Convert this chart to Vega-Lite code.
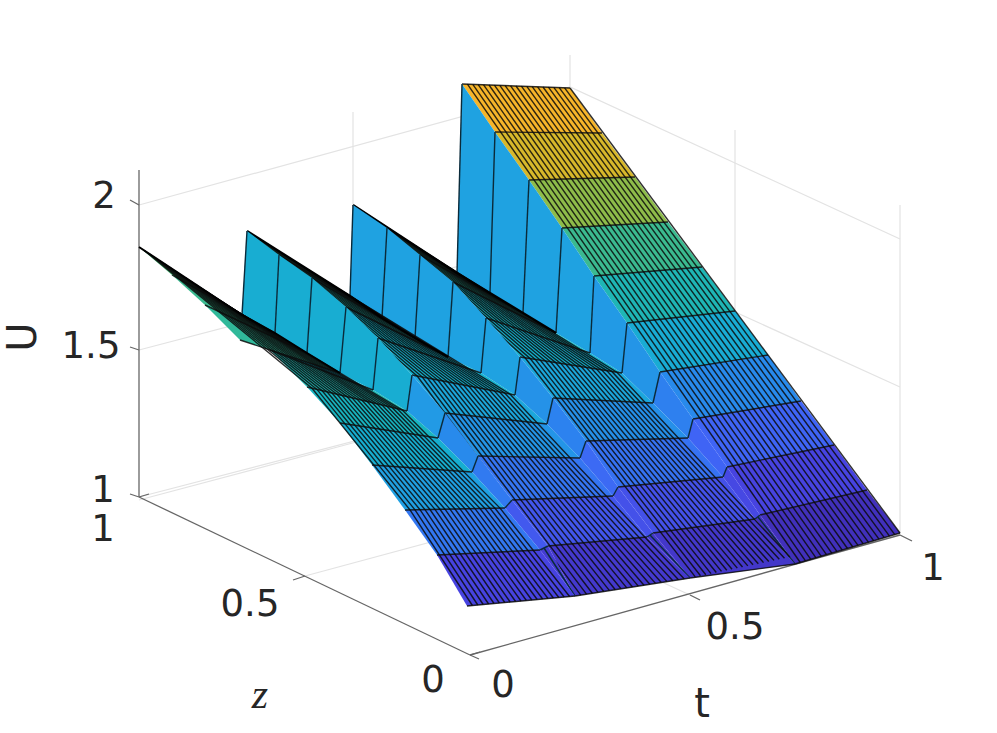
{"$schema":"https://vega.github.io/schema/vega-lite/v6.json","autosize":{"type":"fit","contains":"padding"},"width":997,"height":733,"padding":0,"background":"#ffffff","view":{"stroke":null},
"datasets":{
"cells":[
{"p":"D","id":"D0","U":2.08,"x":[462,570,602,495,462],"y":[84,88,133,132,84],"n":[0,1,2,3,4]},
{"p":"D","id":"D1","U":2.02,"x":[495,602,635,529,495],"y":[132,133,177,180,132],"n":[0,1,2,3,4]},
{"p":"D","id":"D2","U":1.89,"x":[529,635,668,562,529],"y":[180,177,222,228,180],"n":[0,1,2,3,4]},
{"p":"D","id":"D3","U":1.74,"x":[562,668,702,594,562],"y":[228,222,267,276,228],"n":[0,1,2,3,4]},
{"p":"D","id":"D4","U":1.65,"x":[594,702,735,627,594],"y":[276,267,311,323,276],"n":[0,1,2,3,4]},
{"p":"D","id":"D5","U":1.54,"x":[627,735,768,660,627],"y":[323,311,355,372,323],"n":[0,1,2,3,4]},
{"p":"D","id":"D6","U":1.38,"x":[660,768,801,693,660],"y":[372,355,401,419,372],"n":[0,1,2,3,4]},
{"p":"D","id":"D7","U":1.24,"x":[693,801,834,727,693],"y":[419,401,445,467,419],"n":[0,1,2,3,4]},
{"p":"D","id":"D8","U":1.12,"x":[727,834,867,760,727],"y":[467,445,490,515,467],"n":[0,1,2,3,4]},
{"p":"D","id":"D9","U":1.04,"x":[760,867,900,795,760],"y":[515,490,533,564,515],"n":[0,1,2,3,4]},
{"p":"WD","id":"WD0","U":1.47,"x":[462,495,490,457,462],"y":[84,132,293,273,84],"n":[0,1,2,3,4]},
{"p":"WD","id":"WD1","U":1.47,"x":[495,529,523,490,495],"y":[132,180,313,293,132],"n":[0,1,2,3,4]},
{"p":"WD","id":"WD2","U":1.47,"x":[529,562,556,523,529],"y":[180,228,333,313,180],"n":[0,1,2,3,4]},
{"p":"WD","id":"WD3","U":1.47,"x":[562,594,590,556,562],"y":[228,276,353,333,228],"n":[0,1,2,3,4]},
{"p":"WD","id":"WD4","U":1.44,"x":[594,627,622,590,594],"y":[276,323,373,353,276],"n":[0,1,2,3,4]},
{"p":"WD","id":"WD5","U":1.42,"x":[627,660,653,622,627],"y":[323,372,403,373,323],"n":[0,1,2,3,4]},
{"p":"WD","id":"WD6","U":1.34,"x":[660,693,688,653,660],"y":[372,419,438,403,372],"n":[0,1,2,3,4]},
{"p":"WD","id":"WD7","U":1.24,"x":[693,727,723,688,693],"y":[419,467,477,438,419],"n":[0,1,2,3,4]},
{"p":"WD","id":"WD8","U":1.14,"x":[727,760,755,723,727],"y":[467,515,519,477,467],"n":[0,1,2,3,4]},
{"p":"WD","id":"WD9","U":1.05,"x":[760,795,795,755,760],"y":[515,564,564,519,515],"n":[0,1,2,3,4]},
{"p":"C","id":"C0","U":1.79,"x":[353,457,490,387,353],"y":[205,273,293,228,205],"n":[0,1,2,3,4]},
{"p":"C","id":"C1","U":1.74,"x":[387,490,523,420,387],"y":[228,293,313,255,228],"n":[0,1,2,3,4]},
{"p":"C","id":"C2","U":1.70,"x":[420,523,556,453,420],"y":[255,313,333,282,255],"n":[0,1,2,3,4]},
{"p":"C","id":"C3","U":1.62,"x":[453,556,590,486,453],"y":[282,333,353,318,282],"n":[0,1,2,3,4]},
{"p":"C","id":"C4","U":1.58,"x":[486,590,622,520,486],"y":[318,353,373,357,318],"n":[0,1,2,3,4]},
{"p":"C","id":"C5","U":1.50,"x":[520,622,653,553,520],"y":[357,373,403,398,357],"n":[0,1,2,3,4]},
{"p":"C","id":"C6","U":1.40,"x":[553,653,688,586,553],"y":[398,403,438,441,398],"n":[0,1,2,3,4]},
{"p":"C","id":"C7","U":1.29,"x":[586,688,723,618,586],"y":[441,438,477,487,441],"n":[0,1,2,3,4]},
{"p":"C","id":"C8","U":1.17,"x":[618,723,755,653,618],"y":[487,477,519,533,487],"n":[0,1,2,3,4]},
{"p":"C","id":"C9","U":1.07,"x":[653,755,795,690,653],"y":[533,519,564,578,533],"n":[0,1,2,3,4]},
{"p":"WC","id":"WC0","U":1.47,"x":[353,387,382,350,353],"y":[205,228,318,296,205],"n":[0,1,2,3,4]},
{"p":"WC","id":"WC1","U":1.47,"x":[387,420,415,382,387],"y":[228,255,338,318,228],"n":[0,1,2,3,4]},
{"p":"WC","id":"WC2","U":1.47,"x":[420,453,448,415,420],"y":[255,282,357,338,255],"n":[0,1,2,3,4]},
{"p":"WC","id":"WC3","U":1.47,"x":[453,486,481,448,453],"y":[282,318,373,357,282],"n":[0,1,2,3,4]},
{"p":"WC","id":"WC4","U":1.47,"x":[486,520,515,481,486],"y":[318,357,395,373,318],"n":[0,1,2,3,4]},
{"p":"WC","id":"WC5","U":1.41,"x":[520,553,547,515,520],"y":[357,398,424,395,357],"n":[0,1,2,3,4]},
{"p":"WC","id":"WC6","U":1.35,"x":[553,586,580,547,553],"y":[398,441,458,424,398],"n":[0,1,2,3,4]},
{"p":"WC","id":"WC7","U":1.26,"x":[586,618,613,580,586],"y":[441,487,496,458,441],"n":[0,1,2,3,4]},
{"p":"WC","id":"WC8","U":1.17,"x":[618,653,647,613,618],"y":[487,533,537,496,487],"n":[0,1,2,3,4]},
{"p":"WC","id":"WC9","U":1.07,"x":[653,690,690,647,653],"y":[533,578,578,537,533],"n":[0,1,2,3,4]},
{"p":"B","id":"B0","U":1.74,"x":[247,350,382,279,247],"y":[231,296,318,255,231],"n":[0,1,2,3,4]},
{"p":"B","id":"B1","U":1.72,"x":[279,382,415,312,279],"y":[255,318,338,278,255],"n":[0,1,2,3,4]},
{"p":"B","id":"B2","U":1.67,"x":[312,415,448,346,312],"y":[278,338,357,307,278],"n":[0,1,2,3,4]},
{"p":"B","id":"B3","U":1.60,"x":[346,448,481,378,346],"y":[307,357,373,338,307],"n":[0,1,2,3,4]},
{"p":"B","id":"B4","U":1.58,"x":[378,481,515,412,378],"y":[338,373,395,375,338],"n":[0,1,2,3,4]},
{"p":"B","id":"B5","U":1.50,"x":[412,515,547,445,412],"y":[375,395,424,413,375],"n":[0,1,2,3,4]},
{"p":"B","id":"B6","U":1.42,"x":[445,547,580,478,445],"y":[413,424,458,456,413],"n":[0,1,2,3,4]},
{"p":"B","id":"B7","U":1.30,"x":[478,580,613,512,478],"y":[456,458,496,500,456],"n":[0,1,2,3,4]},
{"p":"B","id":"B8","U":1.19,"x":[512,613,647,548,512],"y":[500,496,537,546,500],"n":[0,1,2,3,4]},
{"p":"B","id":"B9","U":1.08,"x":[548,647,690,575,548],"y":[546,537,578,596,546],"n":[0,1,2,3,4]},
{"p":"WB","id":"WB0","U":1.55,"x":[247,279,275,242,247],"y":[231,255,333,315,231],"n":[0,1,2,3,4]},
{"p":"WB","id":"WB1","U":1.55,"x":[279,312,307,275,279],"y":[255,278,353,333,255],"n":[0,1,2,3,4]},
{"p":"WB","id":"WB2","U":1.55,"x":[312,346,340,307,312],"y":[278,307,373,353,278],"n":[0,1,2,3,4]},
{"p":"WB","id":"WB3","U":1.55,"x":[346,378,373,340,346],"y":[307,338,390,373,307],"n":[0,1,2,3,4]},
{"p":"WB","id":"WB4","U":1.55,"x":[378,412,407,373,378],"y":[338,375,411,390,338],"n":[0,1,2,3,4]},
{"p":"WB","id":"WB5","U":1.44,"x":[412,445,438,407,412],"y":[375,413,438,411,375],"n":[0,1,2,3,4]},
{"p":"WB","id":"WB6","U":1.38,"x":[445,478,472,438,445],"y":[413,456,472,438,413],"n":[0,1,2,3,4]},
{"p":"WB","id":"WB7","U":1.32,"x":[478,512,505,472,478],"y":[456,500,508,472,456],"n":[0,1,2,3,4]},
{"p":"WB","id":"WB8","U":1.20,"x":[512,548,540,505,512],"y":[500,546,550,508,500],"n":[0,1,2,3,4]},
{"p":"WB","id":"WB9","U":1.09,"x":[548,575,575,540,548],"y":[546,596,596,550,546],"n":[0,1,2,3,4]},
{"p":"A","id":"A0","U":1.78,"x":[139,242,275,172,139],"y":[247,315,333,275,247],"n":[0,1,2,3,4]},
{"p":"A","id":"A1","U":1.74,"x":[172,275,307,205,172],"y":[275,333,353,305,275],"n":[0,1,2,3,4]},
{"p":"A","id":"A2","U":1.72,"x":[205,307,340,240,205],"y":[305,353,373,340,305],"n":[0,1,2,3,4]},
{"p":"A","id":"A3","U":1.58,"x":[240,340,373,270,240],"y":[340,373,390,350,340],"n":[0,1,2,3,4]},
{"p":"A","id":"A4","U":1.66,"x":[270,373,407,307,270],"y":[350,390,411,387,350],"n":[0,1,2,3,4]},
{"p":"A","id":"A5","U":1.62,"x":[307,407,438,340,307],"y":[387,411,438,423,387],"n":[0,1,2,3,4]},
{"p":"A","id":"A6","U":1.56,"x":[340,438,472,372,340],"y":[423,438,472,465,423],"n":[0,1,2,3,4]},
{"p":"A","id":"A7","U":1.46,"x":[372,472,505,405,372],"y":[465,472,508,510,465],"n":[0,1,2,3,4]},
{"p":"A","id":"A8","U":1.31,"x":[405,505,540,437,405],"y":[510,508,550,555,510],"n":[0,1,2,3,4]},
{"p":"A","id":"A9","U":1.12,"x":[437,540,575,467,437],"y":[555,550,596,606,555],"n":[0,1,2,3,4]}
],
"hatch":[
{"p":"D","k":"D1","x":[467.4,800.3],"y":[84.2,562.5],"n":[0,1]},
{"p":"D","k":"D2","x":[472.8,805.5],"y":[84.4,560.9],"n":[0,1]},
{"p":"D","k":"D3","x":[478.2,810.8],"y":[84.6,559.4],"n":[0,1]},
{"p":"D","k":"D4","x":[483.6,816],"y":[84.8,557.8],"n":[0,1]},
{"p":"D","k":"D5","x":[489,821.3],"y":[85,556.3],"n":[0,1]},
{"p":"D","k":"D6","x":[494.4,826.5],"y":[85.2,554.7],"n":[0,1]},
{"p":"D","k":"D7","x":[499.8,831.8],"y":[85.4,553.2],"n":[0,1]},
{"p":"D","k":"D8","x":[505.2,837],"y":[85.6,551.6],"n":[0,1]},
{"p":"D","k":"D9","x":[510.6,842.3],"y":[85.8,550.1],"n":[0,1]},
{"p":"D","k":"D10","x":[516,847.5],"y":[86,548.5],"n":[0,1]},
{"p":"D","k":"D11","x":[521.4,852.8],"y":[86.2,547],"n":[0,1]},
{"p":"D","k":"D12","x":[526.8,858],"y":[86.4,545.4],"n":[0,1]},
{"p":"D","k":"D13","x":[532.2,863.3],"y":[86.6,543.9],"n":[0,1]},
{"p":"D","k":"D14","x":[537.6,868.5],"y":[86.8,542.3],"n":[0,1]},
{"p":"D","k":"D15","x":[543,873.8],"y":[87,540.8],"n":[0,1]},
{"p":"D","k":"D16","x":[548.4,879],"y":[87.2,539.2],"n":[0,1]},
{"p":"D","k":"D17","x":[553.8,884.3],"y":[87.4,537.7],"n":[0,1]},
{"p":"D","k":"D18","x":[559.2,889.5],"y":[87.6,536.1],"n":[0,1]},
{"p":"D","k":"D19","x":[564.6,894.8],"y":[87.8,534.6],"n":[0,1]},
{"p":"D","k":"D20","x":[570,900],"y":[88,533],"n":[0,1]},
{"p":"D","k":"Dj0","x":[462,570],"y":[84,88],"n":[0,1]},
{"p":"D","k":"Dj1","x":[495,602],"y":[132,133],"n":[0,1]},
{"p":"D","k":"Dj2","x":[529,635],"y":[180,177],"n":[0,1]},
{"p":"D","k":"Dj3","x":[562,668],"y":[228,222],"n":[0,1]},
{"p":"D","k":"Dj4","x":[594,702],"y":[276,267],"n":[0,1]},
{"p":"D","k":"Dj5","x":[627,735],"y":[323,311],"n":[0,1]},
{"p":"D","k":"Dj6","x":[660,768],"y":[372,355],"n":[0,1]},
{"p":"D","k":"Dj7","x":[693,801],"y":[419,401],"n":[0,1]},
{"p":"D","k":"Dj8","x":[727,834],"y":[467,445],"n":[0,1]},
{"p":"D","k":"Dj9","x":[760,867],"y":[515,490],"n":[0,1]},
{"p":"D","k":"Dj10","x":[795,900],"y":[564,533],"n":[0,1]},
{"p":"WD","k":"WDj0","x":[462,457],"y":[84,273],"n":[0,1]},
{"p":"WD","k":"WDj1","x":[495,490],"y":[132,293],"n":[0,1]},
{"p":"WD","k":"WDj2","x":[529,523],"y":[180,313],"n":[0,1]},
{"p":"WD","k":"WDj3","x":[562,556],"y":[228,333],"n":[0,1]},
{"p":"WD","k":"WDj4","x":[594,590],"y":[276,353],"n":[0,1]},
{"p":"WD","k":"WDj5","x":[627,622],"y":[323,373],"n":[0,1]},
{"p":"WD","k":"WDj6","x":[660,653],"y":[372,403],"n":[0,1]},
{"p":"WD","k":"WDj7","x":[693,688],"y":[419,438],"n":[0,1]},
{"p":"WD","k":"WDj8","x":[727,723],"y":[467,477],"n":[0,1]},
{"p":"WD","k":"WDj9","x":[760,755],"y":[515,519],"n":[0,1]},
{"p":"WD","k":"WDw","x":[758,795],"y":[517,564],"n":[0,1]},
{"p":"C","k":"C1","x":[358.2,525.1,695.3],"y":[208.4,357.8,576.9],"n":[0,1,2]},
{"p":"C","k":"C2","x":[363.4,530.2,700.5],"y":[211.8,358.6,575.8],"n":[0,1,2]},
{"p":"C","k":"C3","x":[368.6,535.3,705.8],"y":[215.2,359.4,574.7],"n":[0,1,2]},
{"p":"C","k":"C4","x":[373.8,540.4,711],"y":[218.6,360.2,573.6],"n":[0,1,2]},
{"p":"C","k":"C5","x":[379,545.5,716.3],"y":[222,361,572.5],"n":[0,1,2]},
{"p":"C","k":"C6","x":[384.2,550.6,721.5],"y":[225.4,361.8,571.4],"n":[0,1,2]},
{"p":"C","k":"C7","x":[389.4,555.7,726.8],"y":[228.8,362.6,570.3],"n":[0,1,2]},
{"p":"C","k":"C8","x":[394.6,560.8,732],"y":[232.2,363.4,569.2],"n":[0,1,2]},
{"p":"C","k":"C9","x":[399.8,565.9,737.3],"y":[235.6,364.2,568.1],"n":[0,1,2]},
{"p":"C","k":"C10","x":[405,571,742.5],"y":[239,365,567],"n":[0,1,2]},
{"p":"C","k":"C11","x":[410.2,576.1,747.8],"y":[242.4,365.8,565.9],"n":[0,1,2]},
{"p":"C","k":"C12","x":[415.4,581.2,753],"y":[245.8,366.6,564.8],"n":[0,1,2]},
{"p":"C","k":"C13","x":[420.6,586.3,758.3],"y":[249.2,367.4,563.7],"n":[0,1,2]},
{"p":"C","k":"C14","x":[425.8,591.4,763.5],"y":[252.6,368.2,562.6],"n":[0,1,2]},
{"p":"C","k":"C15","x":[431,596.5,768.8],"y":[256,369,561.5],"n":[0,1,2]},
{"p":"C","k":"C16","x":[436.2,601.6,774],"y":[259.4,369.8,560.4],"n":[0,1,2]},
{"p":"C","k":"C17","x":[441.4,606.7,779.3],"y":[262.8,370.6,559.3],"n":[0,1,2]},
{"p":"C","k":"C18","x":[446.6,611.8,784.5],"y":[266.2,371.4,558.2],"n":[0,1,2]},
{"p":"C","k":"C19","x":[451.8,616.9,789.8],"y":[269.6,372.2,557.1],"n":[0,1,2]},
{"p":"C","k":"Cj1","x":[387,490],"y":[228,293],"n":[0,1]},
{"p":"C","k":"Cj2","x":[420,523],"y":[255,313],"n":[0,1]},
{"p":"C","k":"Cj3","x":[453,556],"y":[282,333],"n":[0,1]},
{"p":"C","k":"Cj4","x":[486,590],"y":[318,353],"n":[0,1]},
{"p":"C","k":"Cj5","x":[520,622],"y":[357,373],"n":[0,1]},
{"p":"C","k":"Cj6","x":[553,653],"y":[398,403],"n":[0,1]},
{"p":"C","k":"Cj7","x":[586,688],"y":[441,438],"n":[0,1]},
{"p":"C","k":"Cj8","x":[618,723],"y":[487,477],"n":[0,1]},
{"p":"C","k":"Cj9","x":[653,755],"y":[533,519],"n":[0,1]},
{"p":"C","k":"Cj10","x":[690,795],"y":[578,564],"n":[0,1]},
{"p":"WC","k":"WCj0","x":[353,350],"y":[205,296],"n":[0,1]},
{"p":"WC","k":"WCj1","x":[387,382],"y":[228,318],"n":[0,1]},
{"p":"WC","k":"WCj2","x":[420,415],"y":[255,338],"n":[0,1]},
{"p":"WC","k":"WCj3","x":[453,448],"y":[282,357],"n":[0,1]},
{"p":"WC","k":"WCj4","x":[486,481],"y":[318,373],"n":[0,1]},
{"p":"WC","k":"WCj5","x":[520,515],"y":[357,395],"n":[0,1]},
{"p":"WC","k":"WCj6","x":[553,547],"y":[398,424],"n":[0,1]},
{"p":"WC","k":"WCj7","x":[586,580],"y":[441,458],"n":[0,1]},
{"p":"WC","k":"WCj8","x":[618,613],"y":[487,496],"n":[0,1]},
{"p":"WC","k":"WCj9","x":[653,647],"y":[533,537],"n":[0,1]},
{"p":"WC","k":"WCw","x":[650,690],"y":[535,578],"n":[0,1]},
{"p":"B","k":"B1","x":[252.2,417.2,580.8],"y":[234.3,376,595.1],"n":[0,1,2]},
{"p":"B","k":"B2","x":[257.3,422.3,586.5],"y":[237.5,377,594.2],"n":[0,1,2]},
{"p":"B","k":"B3","x":[262.5,427.5,592.3],"y":[240.8,378,593.3],"n":[0,1,2]},
{"p":"B","k":"B4","x":[267.6,432.6,598],"y":[244,379,592.4],"n":[0,1,2]},
{"p":"B","k":"B5","x":[272.8,437.8,603.8],"y":[247.3,380,591.5],"n":[0,1,2]},
{"p":"B","k":"B6","x":[277.9,442.9,609.5],"y":[250.5,381,590.6],"n":[0,1,2]},
{"p":"B","k":"B7","x":[283.1,448.1,615.3],"y":[253.8,382,589.7],"n":[0,1,2]},
{"p":"B","k":"B8","x":[288.2,453.2,621],"y":[257,383,588.8],"n":[0,1,2]},
{"p":"B","k":"B9","x":[293.4,458.4,626.8],"y":[260.3,384,587.9],"n":[0,1,2]},
{"p":"B","k":"B10","x":[298.5,463.5,632.5],"y":[263.5,385,587],"n":[0,1,2]},
{"p":"B","k":"B11","x":[303.7,468.7,638.3],"y":[266.8,386,586.1],"n":[0,1,2]},
{"p":"B","k":"B12","x":[308.8,473.8,644],"y":[270,387,585.2],"n":[0,1,2]},
{"p":"B","k":"B13","x":[314,479,649.8],"y":[273.3,388,584.3],"n":[0,1,2]},
{"p":"B","k":"B14","x":[319.1,484.1,655.5],"y":[276.5,389,583.4],"n":[0,1,2]},
{"p":"B","k":"B15","x":[324.3,489.3,661.3],"y":[279.8,390,582.5],"n":[0,1,2]},
{"p":"B","k":"B16","x":[329.4,494.4,667],"y":[283,391,581.6],"n":[0,1,2]},
{"p":"B","k":"B17","x":[334.6,499.6,672.8],"y":[286.3,392,580.7],"n":[0,1,2]},
{"p":"B","k":"B18","x":[339.7,504.7,678.5],"y":[289.5,393,579.8],"n":[0,1,2]},
{"p":"B","k":"B19","x":[344.9,509.9,684.3],"y":[292.8,394,578.9],"n":[0,1,2]},
{"p":"B","k":"Bj1","x":[279,382],"y":[255,318],"n":[0,1]},
{"p":"B","k":"Bj2","x":[312,415],"y":[278,338],"n":[0,1]},
{"p":"B","k":"Bj3","x":[346,448],"y":[307,357],"n":[0,1]},
{"p":"B","k":"Bj4","x":[378,481],"y":[338,373],"n":[0,1]},
{"p":"B","k":"Bj5","x":[412,515],"y":[375,395],"n":[0,1]},
{"p":"B","k":"Bj6","x":[445,547],"y":[413,424],"n":[0,1]},
{"p":"B","k":"Bj7","x":[478,580],"y":[456,458],"n":[0,1]},
{"p":"B","k":"Bj8","x":[512,613],"y":[500,496],"n":[0,1]},
{"p":"B","k":"Bj9","x":[548,647],"y":[546,537],"n":[0,1]},
{"p":"B","k":"Bj10","x":[575,690],"y":[596,578],"n":[0,1]},
{"p":"WB","k":"WBj0","x":[247,242],"y":[231,315],"n":[0,1]},
{"p":"WB","k":"WBj1","x":[279,275],"y":[255,333],"n":[0,1]},
{"p":"WB","k":"WBj2","x":[312,307],"y":[278,353],"n":[0,1]},
{"p":"WB","k":"WBj3","x":[346,340],"y":[307,373],"n":[0,1]},
{"p":"WB","k":"WBj4","x":[378,373],"y":[338,390],"n":[0,1]},
{"p":"WB","k":"WBj5","x":[412,407],"y":[375,411],"n":[0,1]},
{"p":"WB","k":"WBj6","x":[445,438],"y":[413,438],"n":[0,1]},
{"p":"WB","k":"WBj7","x":[478,472],"y":[456,472],"n":[0,1]},
{"p":"WB","k":"WBj8","x":[512,505],"y":[500,508],"n":[0,1]},
{"p":"WB","k":"WBj9","x":[548,540],"y":[546,550],"n":[0,1]},
{"p":"WB","k":"WBw","x":[544,575],"y":[548,596],"n":[0,1]},
{"p":"A","k":"A1","x":[144.2,312,410,472.4],"y":[250.4,388.2,509.9,605.5],"n":[0,1,2,3]},
{"p":"A","k":"A2","x":[149.3,317,415,477.8],"y":[253.8,389.4,509.8,605],"n":[0,1,2,3]},
{"p":"A","k":"A3","x":[154.5,322,420,483.2],"y":[257.2,390.6,509.7,604.5],"n":[0,1,2,3]},
{"p":"A","k":"A4","x":[159.6,327,425,488.6],"y":[260.6,391.8,509.6,604],"n":[0,1,2,3]},
{"p":"A","k":"A5","x":[164.8,332,430,494],"y":[264,393,509.5,603.5],"n":[0,1,2,3]},
{"p":"A","k":"A6","x":[169.9,337,435,499.4],"y":[267.4,394.2,509.4,603],"n":[0,1,2,3]},
{"p":"A","k":"A7","x":[175.1,342,440,504.8],"y":[270.8,395.4,509.3,602.5],"n":[0,1,2,3]},
{"p":"A","k":"A8","x":[180.2,347,445,510.2],"y":[274.2,396.6,509.2,602],"n":[0,1,2,3]},
{"p":"A","k":"A9","x":[185.4,352,450,515.6],"y":[277.6,397.8,509.1,601.5],"n":[0,1,2,3]},
{"p":"A","k":"A10","x":[190.5,357,455,521],"y":[281,399,509,601],"n":[0,1,2,3]},
{"p":"A","k":"A11","x":[195.7,362,460,526.4],"y":[284.4,400.2,508.9,600.5],"n":[0,1,2,3]},
{"p":"A","k":"A12","x":[200.8,367,465,531.8],"y":[287.8,401.4,508.8,600],"n":[0,1,2,3]},
{"p":"A","k":"A13","x":[206,372,470,537.2],"y":[291.2,402.6,508.7,599.5],"n":[0,1,2,3]},
{"p":"A","k":"A14","x":[211.1,377,475,542.6],"y":[294.6,403.8,508.6,599],"n":[0,1,2,3]},
{"p":"A","k":"A15","x":[216.3,382,480,548],"y":[298,405,508.5,598.5],"n":[0,1,2,3]},
{"p":"A","k":"A16","x":[221.4,387,485,553.4],"y":[301.4,406.2,508.4,598],"n":[0,1,2,3]},
{"p":"A","k":"A17","x":[226.6,392,490,558.8],"y":[304.8,407.4,508.3,597.5],"n":[0,1,2,3]},
{"p":"A","k":"A18","x":[231.7,397,495,564.2],"y":[308.2,408.6,508.2,597],"n":[0,1,2,3]},
{"p":"A","k":"A19","x":[236.9,402,500,569.6],"y":[311.6,409.8,508.1,596.5],"n":[0,1,2,3]},
{"p":"A","k":"Aj1","x":[172,275],"y":[275,333],"n":[0,1]},
{"p":"A","k":"Aj2","x":[205,307],"y":[305,353],"n":[0,1]},
{"p":"A","k":"Aj3","x":[240,340],"y":[340,373],"n":[0,1]},
{"p":"A","k":"Aj4","x":[270,373],"y":[350,390],"n":[0,1]},
{"p":"A","k":"Aj5","x":[307,407],"y":[387,411],"n":[0,1]},
{"p":"A","k":"Aj6","x":[340,438],"y":[423,438],"n":[0,1]},
{"p":"A","k":"Aj7","x":[372,472],"y":[465,472],"n":[0,1]},
{"p":"A","k":"Aj8","x":[405,505],"y":[510,508],"n":[0,1]},
{"p":"A","k":"Aj9","x":[437,540],"y":[555,550],"n":[0,1]},
{"p":"A","k":"Aj10","x":[467,575],"y":[606,596],"n":[0,1]}
],
"ridge":[
{"p":"C","k":"rC","x":[353,457,490,523,556],"y":[205,273,293,313,333],"n":[0,1,2,3,4]},
{"p":"B","k":"rB","x":[247,350,382,415,448],"y":[231,296,318,338,357],"n":[0,1,2,3,4]},
{"p":"A","k":"rA","x":[139,242,275,307,340],"y":[247,315,333,353,373],"n":[0,1,2,3,4]}
],
"grid":[
{"k":"g1","x":[139,570,900],"y":[205,87,239],"n":[0,1,2]},
{"k":"g2","x":[139,570,900],"y":[350,237,387],"n":[0,1,2]},
{"k":"g3","x":[139,570,900],"y":[497,385,535],"n":[0,1,2]},
{"k":"g4","x":[139,360],"y":[500,441],"n":[0,1]},
{"k":"g5","x":[570,570],"y":[55,385],"n":[0,1]},
{"k":"g6","x":[353,353],"y":[112,440],"n":[0,1]},
{"k":"g7","x":[735,735],"y":[130,460],"n":[0,1]},
{"k":"g8","x":[900,900],"y":[205,535],"n":[0,1]},
{"k":"g9","x":[690,353],"y":[595,440],"n":[0,1]},
{"k":"g10","x":[305,735],"y":[576,460],"n":[0,1]}
],
"axes":[
{"k":"a1","x":[139,139],"y":[170,497],"n":[0,1]},
{"k":"a2","x":[139,470],"y":[497,655],"n":[0,1]},
{"k":"a3","x":[470,900],"y":[655,535],"n":[0,1]},
{"k":"t1","x":[900,912],"y":[535,541],"n":[0,1]},
{"k":"t2","x":[690,700],"y":[595,600],"n":[0,1]},
{"k":"t3","x":[470,479],"y":[655,659],"n":[0,1]},
{"k":"t4","x":[470,480],"y":[655,652],"n":[0,1]},
{"k":"t5","x":[293,305],"y":[580,576],"n":[0,1]},
{"k":"t6","x":[139,149],"y":[497,494],"n":[0,1]},
{"k":"t7","x":[139,130],"y":[205,200],"n":[0,1]},
{"k":"t8","x":[139,130],"y":[350,347],"n":[0,1]},
{"k":"t9","x":[139,130],"y":[497,494],"n":[0,1]}
],
"labels":[
{"s":"2","x":104,"y":197},
{"s":"1.5","x":91,"y":347},
{"s":"1","x":103,"y":491},
{"s":"1","x":103,"y":530},
{"s":"0.5","x":250,"y":605},
{"s":"0","x":433,"y":681},
{"s":"0","x":503,"y":686},
{"s":"0.5","x":735,"y":628},
{"s":"1","x":933,"y":569}
]
},
"encoding":{
"x":{"field":"x","type":"quantitative","scale":{"domain":[0,997]},"axis":null},
"y":{"field":"y","type":"quantitative","scale":{"domain":[733,0]},"axis":null}
},
"layer":[
{"data":{"name":"grid"},"transform":[{"flatten":["x","y","n"]}],"mark":{"type":"line","stroke":"#e3e3e3","strokeWidth":1.2},"encoding":{"detail":{"field":"k"},"order":{"field":"n"}}},
{"data":{"name":"axes"},"transform":[{"flatten":["x","y","n"]}],"mark":{"type":"line","stroke":"#666666","strokeWidth":1.3},"encoding":{"detail":{"field":"k"},"order":{"field":"n"}}},
{"data":{"name":"cells"},"transform":[{"filter":"datum.p=='D'"},{"flatten":["x","y","n"]}],"mark":{"type":"line","filled":true,"strokeWidth":0},"encoding":{"detail":{"field":"id"},"order":{"field":"n"},"fill":{"field":"U","type":"quantitative","scale":{"domain":[1,1.12,1.24,1.36,1.48,1.6,1.72,1.84,1.96,2.08,2.2],"range":["#3e26a8","#4743e0","#3f64f5","#2a85ee","#1ea5e0","#13b3c8","#30b99a","#70bd60","#b8bb2c","#f6b52a","#f9fb15"],"interpolate":"rgb"},"legend":null}}},
{"data":{"name":"hatch"},"transform":[{"filter":"datum.p=='D'"},{"flatten":["x","y","n"]}],"mark":{"type":"line","stroke":"#0a0a0a","strokeWidth":1.4,"strokeOpacity":0.85},"encoding":{"detail":{"field":"k"},"order":{"field":"n"}}},
{"data":{"name":"cells"},"transform":[{"filter":"datum.p=='WD'"},{"flatten":["x","y","n"]}],"mark":{"type":"line","filled":true,"strokeWidth":0},"encoding":{"detail":{"field":"id"},"order":{"field":"n"},"fill":{"field":"U","type":"quantitative","legend":null}}},
{"data":{"name":"hatch"},"transform":[{"filter":"datum.p=='WD'"},{"flatten":["x","y","n"]}],"mark":{"type":"line","stroke":"#0a2a3a","strokeWidth":1.4},"encoding":{"detail":{"field":"k"},"order":{"field":"n"}}},
{"data":{"name":"cells"},"transform":[{"filter":"datum.p=='C'"},{"flatten":["x","y","n"]}],"mark":{"type":"line","filled":true,"strokeWidth":0},"encoding":{"detail":{"field":"id"},"order":{"field":"n"},"fill":{"field":"U","type":"quantitative","legend":null}}},
{"data":{"name":"hatch"},"transform":[{"filter":"datum.p=='C'"},{"flatten":["x","y","n"]}],"mark":{"type":"line","stroke":"#0a0a0a","strokeWidth":1.4,"strokeOpacity":0.85},"encoding":{"detail":{"field":"k"},"order":{"field":"n"}}},
{"data":{"name":"ridge"},"transform":[{"filter":"datum.p=='C'"},{"flatten":["x","y","n"]}],"mark":{"type":"line","stroke":"#000000","strokeWidth":2.3},"encoding":{"detail":{"field":"k"},"order":{"field":"n"}}},
{"data":{"name":"cells"},"transform":[{"filter":"datum.p=='WC'"},{"flatten":["x","y","n"]}],"mark":{"type":"line","filled":true,"strokeWidth":0},"encoding":{"detail":{"field":"id"},"order":{"field":"n"},"fill":{"field":"U","type":"quantitative","legend":null}}},
{"data":{"name":"hatch"},"transform":[{"filter":"datum.p=='WC'"},{"flatten":["x","y","n"]}],"mark":{"type":"line","stroke":"#0a2a3a","strokeWidth":1.4},"encoding":{"detail":{"field":"k"},"order":{"field":"n"}}},
{"data":{"name":"cells"},"transform":[{"filter":"datum.p=='B'"},{"flatten":["x","y","n"]}],"mark":{"type":"line","filled":true,"strokeWidth":0},"encoding":{"detail":{"field":"id"},"order":{"field":"n"},"fill":{"field":"U","type":"quantitative","legend":null}}},
{"data":{"name":"hatch"},"transform":[{"filter":"datum.p=='B'"},{"flatten":["x","y","n"]}],"mark":{"type":"line","stroke":"#0a0a0a","strokeWidth":1.4,"strokeOpacity":0.85},"encoding":{"detail":{"field":"k"},"order":{"field":"n"}}},
{"data":{"name":"ridge"},"transform":[{"filter":"datum.p=='B'"},{"flatten":["x","y","n"]}],"mark":{"type":"line","stroke":"#000000","strokeWidth":2.3},"encoding":{"detail":{"field":"k"},"order":{"field":"n"}}},
{"data":{"name":"cells"},"transform":[{"filter":"datum.p=='WB'"},{"flatten":["x","y","n"]}],"mark":{"type":"line","filled":true,"strokeWidth":0},"encoding":{"detail":{"field":"id"},"order":{"field":"n"},"fill":{"field":"U","type":"quantitative","legend":null}}},
{"data":{"name":"hatch"},"transform":[{"filter":"datum.p=='WB'"},{"flatten":["x","y","n"]}],"mark":{"type":"line","stroke":"#0a2a3a","strokeWidth":1.4},"encoding":{"detail":{"field":"k"},"order":{"field":"n"}}},
{"data":{"name":"cells"},"transform":[{"filter":"datum.p=='A'"},{"flatten":["x","y","n"]}],"mark":{"type":"line","filled":true,"strokeWidth":0},"encoding":{"detail":{"field":"id"},"order":{"field":"n"},"fill":{"field":"U","type":"quantitative","legend":null}}},
{"data":{"name":"hatch"},"transform":[{"filter":"datum.p=='A'"},{"flatten":["x","y","n"]}],"mark":{"type":"line","stroke":"#0a0a0a","strokeWidth":1.4,"strokeOpacity":0.85},"encoding":{"detail":{"field":"k"},"order":{"field":"n"}}},
{"data":{"name":"ridge"},"transform":[{"filter":"datum.p=='A'"},{"flatten":["x","y","n"]}],"mark":{"type":"line","stroke":"#000000","strokeWidth":2},"encoding":{"detail":{"field":"k"},"order":{"field":"n"}}},
{"data":{"name":"labels"},"mark":{"type":"text","font":"DejaVu Sans","fontSize":37,"fill":"#262626","align":"center","baseline":"middle"},"encoding":{"text":{"field":"s"}}},
{"data":{"values":[{"s":"t","x":702,"y":705}]},"mark":{"type":"text","font":"DejaVu Sans","fontSize":40,"fill":"#262626","align":"center","baseline":"middle"},"encoding":{"text":{"field":"s"}}},
{"data":{"values":[{"s":"U","x":24,"y":337}]},"mark":{"type":"text","font":"DejaVu Sans","fontSize":40,"fill":"#262626","align":"center","baseline":"middle","angle":270},"encoding":{"text":{"field":"s"}}},
{"data":{"values":[{"s":"z","x":260,"y":695}]},"mark":{"type":"text","font":"Liberation Serif","fontStyle":"italic","fontSize":42,"fill":"#262626","align":"center","baseline":"middle"},"encoding":{"text":{"field":"s"}}}
]}
